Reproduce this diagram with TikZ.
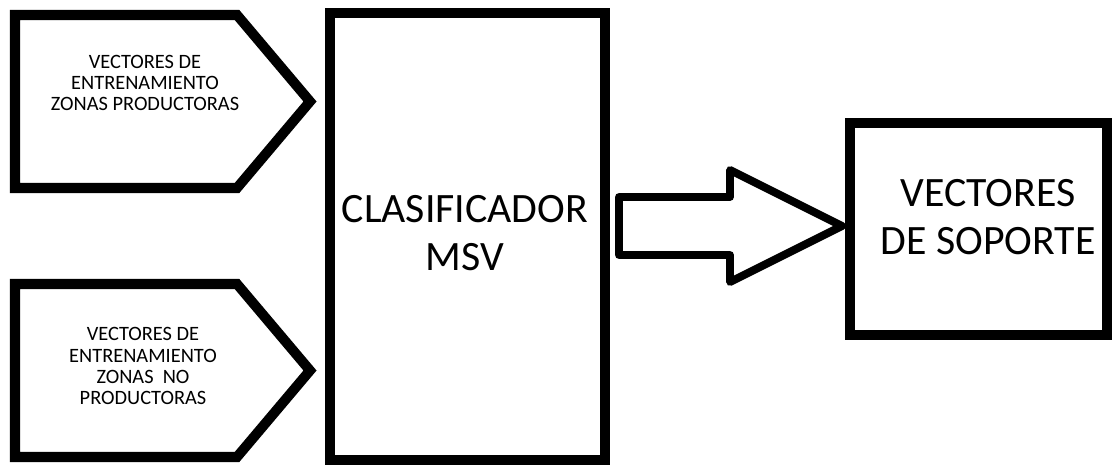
\documentclass[tikz,border=0pt]{standalone}
\usepackage{fontspec}
\setmainfont{Carlito}
\usetikzlibrary{calc}

\begin{document}
\begin{tikzpicture}[x=0.02cm, y=-0.02cm,
  borde/.style={line width=5.7pt, line join=miter},
  flecha/.style={line width=4.5pt, line join=round},
  chico/.style={align=center, font=\fontsize{11.6}{12}\selectfont},
  grande/.style={align=center, font=\fontsize{23.8}{27}\selectfont}]
\useasboundingbox (0,0) rectangle (1114,466);
% entradas
\draw[borde] (15,15) -- (237,15) -- (310,101.5) -- (237,188) -- (15,188) -- cycle;
\draw[borde] (15,284) -- (237,284) -- (310,370.5) -- (237,457) -- (15,457) -- cycle;
\node[chico] (prod) at (145,83) {VECTORES DE\\ENTRENAMIENTO\\ZONAS PRODUCTORAS};
\node[chico] (noprod) at (143,366) {VECTORES DE\\ENTRENAMIENTO\\ZONAS\ \ NO\\PRODUCTORAS};
% clasificador
\draw[borde] (330,13) rectangle (605,460);
\node[grande] (msv) at (465,233) {CLASIFICADOR\\MSV};
% flecha de salida
\draw[flecha] (619,197) -- (730,197) -- (730,170) -- (842,226)
  -- (730,282) -- (730,255) -- (619,255) -- cycle;
% salida
\draw[borde] (850,123) rectangle (1107,335);
\node[grande] (soporte) at (988,217) {VECTORES\\DE SOPORTE};
\end{tikzpicture}
\end{document}
